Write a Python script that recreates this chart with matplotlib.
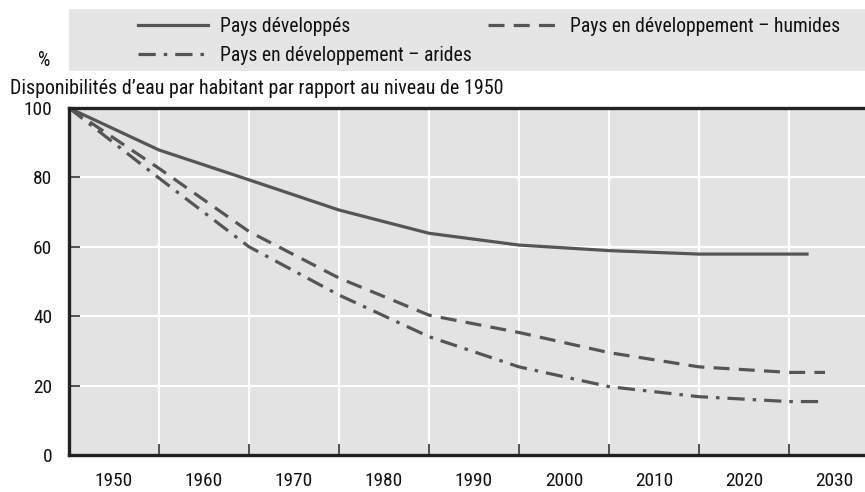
import matplotlib
matplotlib.use('Agg')
import matplotlib.pyplot as plt
import matplotlib.patches as mpatches
from matplotlib.ticker import MultipleLocator, FixedLocator

# condensed sans, close to the original's narrow grotesque
plt.rcParams['font.family'] = ['Roboto Condensed', 'DejaVu Sans']
plt.rcParams['text.color'] = '#111111'

# Data (values as % of 1950 level)
years = [1945, 1955, 1965, 1975, 1985, 1995, 2005, 2015, 2025]
developpes = [100, 87.9, 79.3, 70.6, 63.9, 60.5, 58.9, 57.9, 57.9]
humides = [100, 82.6, 64.4, 51.0, 40.3, 35.3, 29.5, 25.4, 23.8]
arides = [100, 79.8, 60.0, 46.1, 34.1, 25.4, 19.7, 16.8, 15.4]
end_dev = 2027
end_dev_pays = 2029

labels = ['Pays développés', 'Pays en développement – humides', 'Pays en développement – arides']
decades = list(range(1950, 2031, 10))
ylabel_txt = '%'
title_txt = "Disponibilités d’eau par habitant par rapport au niveau de 1950"

line_col = '#555555'
bg_col = '#e3e3e3'
W, H = 865, 492

fig = plt.figure(figsize=(W / 100, H / 100), dpi=100)
fig.canvas.draw()
renderer = fig.canvas.get_renderer()


# font size giving a text the width (in px) it has in the original
def fit_size(txt, target_px, base=10.0):
    t = fig.text(0, 0, txt, fontsize=base)
    w = t.get_window_extent(renderer=renderer).width
    t.remove()
    return base * target_px / w


fs_title = fit_size(title_txt, 490)
fs_leg = fit_size(labels[1], 269)
fs_tick = fit_size('1950', 38)
em = fs_leg * 100 / 72.0  # legend font size in px

ax = fig.add_axes([69 / W, 1 - 455 / H, 1 - 69 / W, (455 - 108) / H])
ax.set_facecolor(bg_col)

lw = 2.3
l1, = ax.plot(years + [end_dev], developpes + [developpes[-1]], color=line_col, lw=lw,
              solid_joinstyle='round', label=labels[0])
l2, = ax.plot(years + [end_dev_pays], humides + [humides[-1]], color=line_col, lw=lw,
              dashes=(5.0, 2.9), label=labels[1])
l3, = ax.plot(years + [end_dev_pays], arides + [arides[-1]], color=line_col, lw=lw,
              dashes=(5.4, 2.5, 1.1, 2.5), label=labels[2])

ax.set_xlim(1945, 1945 + (W - 69) / 9)
ax.set_ylim(0, 100)

# x: labels at decades, gridlines/ticks between them
ax.xaxis.set_major_locator(FixedLocator(decades))
ax.xaxis.set_minor_locator(FixedLocator([d + 5 for d in decades[:-1]]))
ax.tick_params(axis='x', which='major', length=0, pad=12, labelsize=fs_tick, labelcolor='#111111')
ax.tick_params(axis='x', which='minor', direction='in', length=8, width=1.2, color='#333333')
ax.yaxis.set_major_locator(MultipleLocator(20))
ax.tick_params(axis='y', direction='in', length=8, width=1.2, color='#333333', pad=12,
               labelsize=fs_tick, labelcolor='#111111')
ax.grid(True, axis='x', which='minor', color='white', lw=1.5)
ax.grid(True, axis='y', which='major', color='white', lw=1.5)
ax.set_axisbelow(True)

for side in ['left', 'bottom', 'top']:
    ax.spines[side].set_linewidth(2.4)
    ax.spines[side].set_color('#222222')
ax.spines['right'].set_visible(False)

# legend area
fig.patches.append(mpatches.Rectangle((69 / W, 1 - 71 / H), (W - 69) / W, 62 / H,
                                      transform=fig.transFigure, facecolor='#e5e5e5',
                                      edgecolor='none', zorder=0))
leg = fig.legend([l1, l3, l2], [labels[0], labels[2], labels[1]], ncol=2, frameon=False,
                 loc='upper left', bbox_to_anchor=(138 / W, 1 - 17 / H), borderpad=0,
                 borderaxespad=0, handlelength=70 / em, handletextpad=12 / em,
                 columnspacing=16 / em, labelspacing=0.5, fontsize=fs_leg)

fig.text(44 / W, 1 - 61 / H, ylabel_txt, fontsize=fs_leg, ha='center', va='center')
fig.text(10 / W, 1 - 88 / H, title_txt, fontsize=fs_title, ha='left', va='center')

fig.savefig('out.png', dpi=100)
